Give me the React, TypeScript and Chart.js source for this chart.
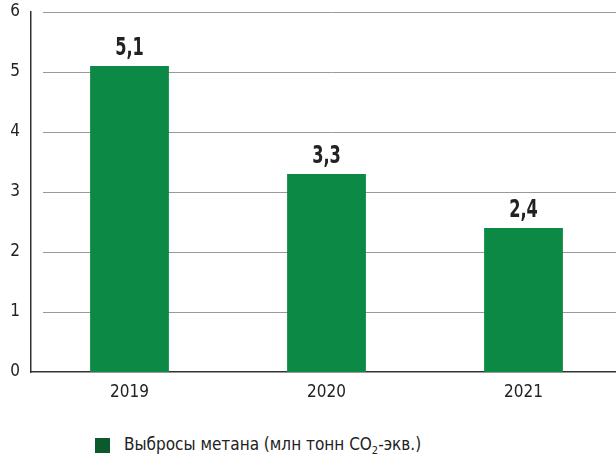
import React, { useEffect, useRef } from "react";
import { Chart, registerables } from "chart.js";

Chart.register(...registerables);

const categories = ["2019", "2020", "2021"];
const values = [5.1, 3.3, 2.4];
const valueLabels = ["5,1", "3,3", "2,4"];
const yTicks = [0, 1, 2, 3, 4, 5, 6];
const legendText = "Выбросы метана (млн тонн CO";

const FONT = "'Liberation Sans Narrow', 'DejaVu Sans Condensed', 'Liberation Sans', sans-serif";
const BAR = "#0c8a45";
const LEGEND_BOX = "#0b5a2c";

const gridPlugin = {
  id: "customGrid",
  beforeDatasetsDraw(chart: any) {
    const { ctx, chartArea, scales } = chart;
    ctx.save();
    ctx.strokeStyle = "#9a9a9a";
    ctx.lineWidth = 1;
    yTicks.forEach((t) => {
      if (t === 0) return;
      const y = Math.round(scales.y.getPixelForValue(t)) + 0.5;
      ctx.beginPath();
      ctx.moveTo(chartArea.left + 12, y);
      ctx.lineTo(chartArea.right, y);
      ctx.stroke();
    });
    ctx.restore();
  },
};

const labelPlugin = {
  id: "valueLabels",
  afterDatasetsDraw(chart: any) {
    const { ctx } = chart;
    const meta = chart.getDatasetMeta(0);
    meta.data.forEach((bar: any, i: number) => {
      ctx.save();
      ctx.translate(bar.x, bar.y - 18);
      ctx.scale(0.72, 1);
      ctx.font = `bold 25px ${FONT}`;
      ctx.fillStyle = "#222222";
      ctx.textAlign = "center";
      ctx.textBaseline = "middle";
      ctx.fillText(valueLabels[i], 0, 0);
      ctx.restore();
    });
  },
};

export default function App() {
  const ref = useRef<HTMLCanvasElement>(null);
  useEffect(() => {
    document.body.style.margin = "0";
    const chart = new Chart(ref.current!, {
      type: "bar",
      data: {
        labels: categories,
        datasets: [
          {
            data: values,
            backgroundColor: BAR,
            barPercentage: 0.4,
            categoryPercentage: 1,
          },
        ],
      },
      options: {
        animation: false,
        responsive: false,
        maintainAspectRatio: false,
        layout: { padding: { top: 12, right: 8, left: 0, bottom: 0 } },
        plugins: { legend: { display: false }, tooltip: { enabled: false } },
        scales: {
          x: {
            offset: true,
            grid: { display: false, drawTicks: false },
            border: { display: true, color: "#333333", width: 1.5 },
            ticks: { color: "#222222", font: { family: FONT, size: 17 }, padding: 10 },
            afterFit: (s: any) => {
              s.height = 38;
              s.paddingLeft = 0;
              s.paddingRight = 0;
            },
          },
          y: {
            min: 0,
            max: 6,
            grid: { display: false, drawTicks: false },
            border: { display: true, color: "#333333", width: 1.5 },
            ticks: { stepSize: 1, color: "#222222", font: { family: FONT, size: 17 }, padding: 11 },
            afterFit: (s: any) => {
              s.width = 31;
              s.paddingTop = 0;
              s.paddingBottom = 0;
            },
          },
        },
      },
      plugins: [gridPlugin, labelPlugin],
    });
    return () => chart.destroy();
  }, []);

  return (
    <div style={{ position: "relative", width: 616, height: 456, overflow: "hidden", background: "#fff" }}>
      <canvas ref={ref} width={630} height={410} style={{ display: "block" }} />
      <div
        style={{
          position: "absolute",
          left: 95,
          top: 434,
          display: "flex",
          alignItems: "center",
          fontFamily: FONT,
          fontSize: 17,
          color: "#222222",
          whiteSpace: "nowrap",
        }}
      >
        <span style={{ display: "inline-block", width: 15, height: 15, background: LEGEND_BOX, marginRight: 14 }} />
        <span>
          {legendText}
          <sub style={{ fontSize: 11, verticalAlign: "-4px" }}>2</sub>-экв.)
        </span>
      </div>
    </div>
  );
}
